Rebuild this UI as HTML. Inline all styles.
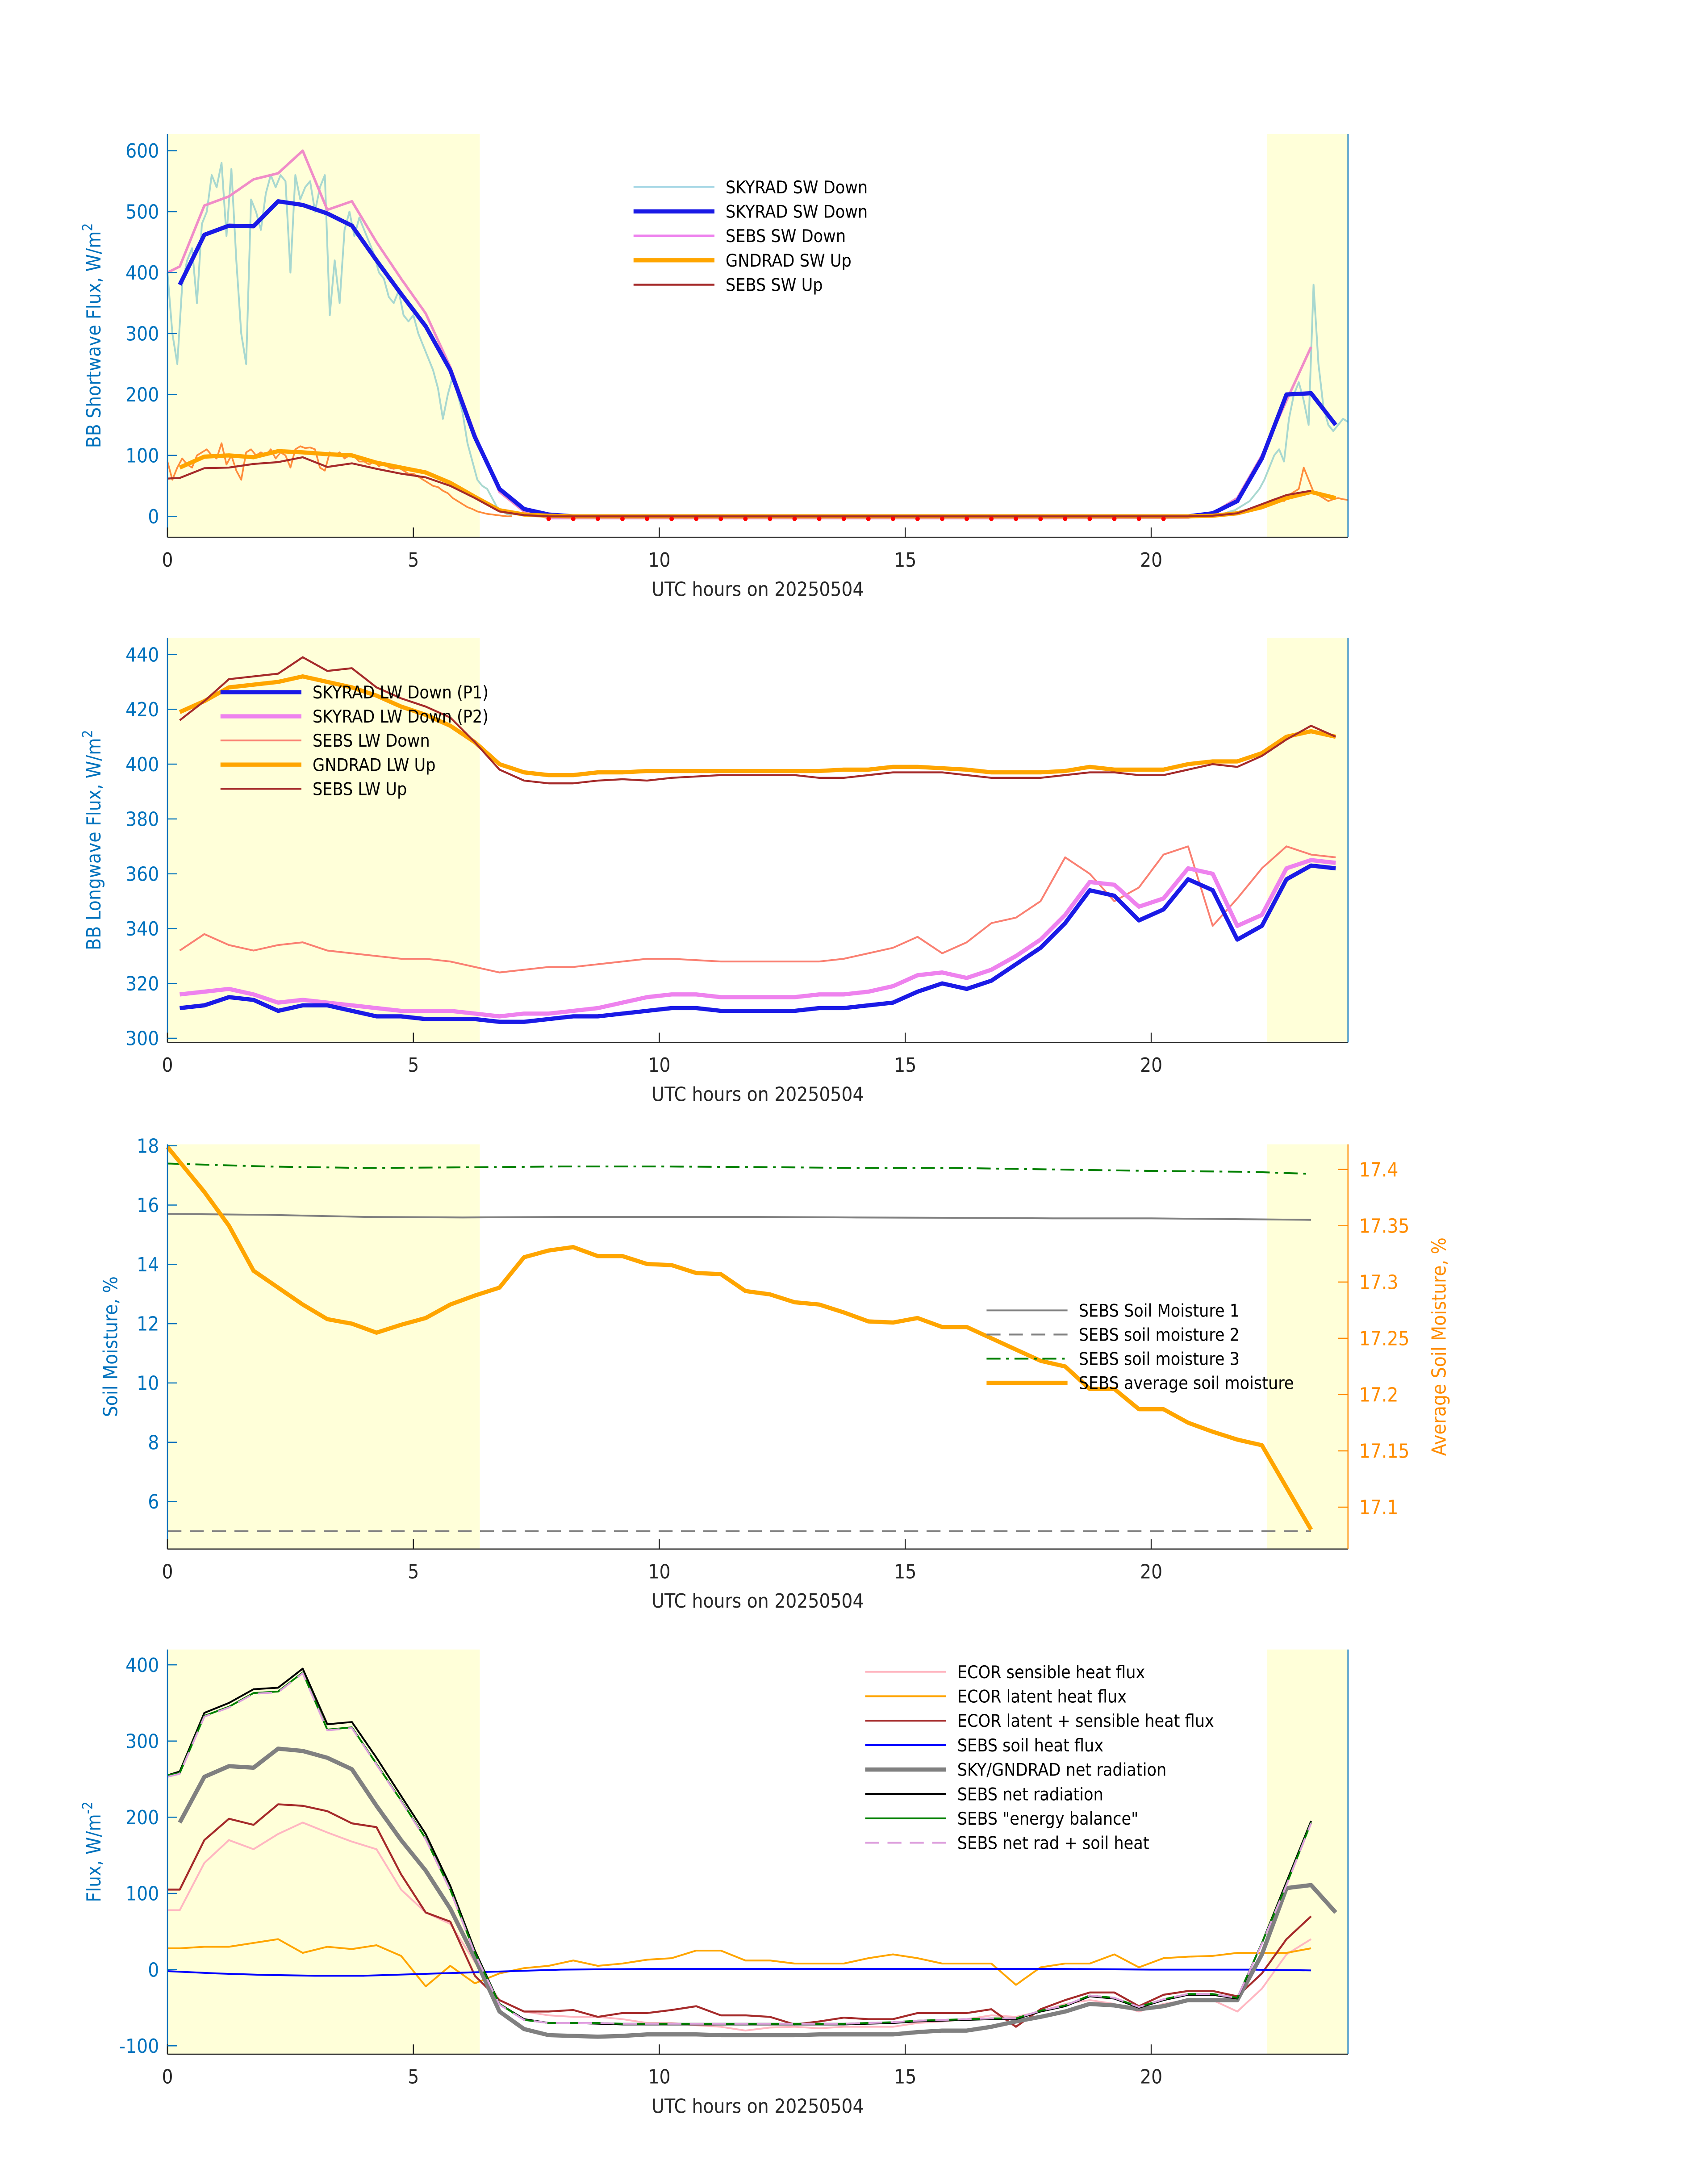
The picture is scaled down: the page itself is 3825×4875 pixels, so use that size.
<!DOCTYPE html>
<html><head><meta charset="utf-8"><style>
html,body{margin:0;padding:0;background:#fff;}
svg{display:block;}
text{font-family:"DejaVu Sans Condensed","DejaVu Sans","Liberation Sans",sans-serif;}
</style></head><body>
<svg id="chart" width="3825" height="4875" viewBox="0 0 1224 1560" xmlns="http://www.w3.org/2000/svg"></svg>
<script>
// ---------- Panel 1 data ----------
const swHours = [0.25,0.75,1.25,1.75,2.25,2.75,3.25,3.75,4.25,4.75,5.25,5.75,6.25,6.75,7.25,7.75,8.25,10,12,14,16,18,20,20.75,21.25,21.75,22.25,22.75,23.25,23.75];
const skyradSwDown = [380,462,477,476,517,511,497,477,420,365,312,240,130,45,12,3,0,0,0,0,0,0,0,0,5,25,95,200,202,150];
const sebsSwHours = [0,0.25,0.75,1.25,1.75,2.25,2.75,3.25,3.75,4.25,4.75,5.25,5.75,6.25,6.75,7.25,7.75,10,14,18,20.75,21.25,21.75,22.25,22.75,23.25];
const sebsSwDown = [400,410,510,525,553,563,600,503,517,450,390,333,245,135,40,8,-3,-3,-3,-3,-2,5,30,100,190,278];
const gndradSwUp = [80,98,100,97,107,105,102,100,88,80,72,55,32,10,3,1,0,0,0,0,0,0,0,0,1,5,15,30,40,30];
const sebsSwUp = [62,63,79,80,86,89,97,81,87,78,70,64,50,30,8,2,0,0,0,0,0,1,5,20,35,42];
const noisyDownA = [400,300,250,380,420,440,350,480,500,560,540,580,460,570,420,300,250,520,500,470,530,560,540,560,550,400,560,520,540,550,500,540,560,330,420,350,470,500,460,490,470,450,430,400,390,360,350,370,330,320,330,300,280,260,240,210,160,200,230,200,170,120,90,60,50,45,30,15,8,4,2];
const noisyDownB = [0,0,1,2,3,5,8,10,15,20,25,35,45,60,80,100,110,90,160,200,220,190,150,380,250,180,150,140,150,160,155];
const noisyUpA = [90,60,80,95,85,80,100,105,110,100,95,120,85,100,75,60,105,110,100,105,100,110,95,105,100,80,110,115,112,113,110,80,75,105,100,105,95,100,98,90,90,85,90,82,88,80,78,80,75,70,70,65,60,55,50,48,42,38,30,25,20,15,12,8,6,4,3,2,1,0,0];
const noisyUpB = [0,0,1,1,2,3,4,6,8,10,12,15,18,20,25,28,30,25,35,40,45,80,60,40,35,30,25,28,30,28,27];
const redDotHours = [7.75,8.25,8.75,9.25,9.75,10.25,10.75,11.25,11.75,12.25,12.75,13.25,13.75,14.25,14.75,15.25,15.75,16.25,16.75,17.25,17.75,18.25,18.75,19.25,19.75,20.25];
const redDotValues = [-4,-4,-4,-4,-4,-4,-4,-4,-4,-4,-4,-4,-4,-4,-4,-4,-4,-4,-4,-4,-4,-4,-4,-4,-4,-4];
const swTicks = [0,100,200,300,400,500,600];
// ---------- Panel 2 data ----------
const lwHours = [0.25,0.75,1.25,1.75,2.25,2.75,3.25,3.75,4.25,4.75,5.25,5.75,6.25,6.75,7.25,7.75,8.25,8.75,9.25,9.75,10.25,10.75,11.25,11.75,12.25,12.75,13.25,13.75,14.25,14.75,15.25,15.75,16.25,16.75,17.25,17.75,18.25,18.75,19.25,19.75,20.25,20.75,21.25,21.75,22.25,22.75,23.25,23.75];
const lwDownP1 = [311,312,315,314,310,312,312,310,308,308,307,307,307,306,306,307,308,308,309,310,311,311,310,310,310,310,311,311,312,313,317,320,318,321,327,333,342,354,352,343,347,358,354,336,341,358,363,362];
const lwDownP2 = [316,317,318,316,313,314,313,312,311,310,310,310,309,308,309,309,310,311,313,315,316,316,315,315,315,315,316,316,317,319,323,324,322,325,330,336,345,357,356,348,351,362,360,341,345,362,365,364];
const sebsLwDown = [332,338,334,332,334,335,332,331,330,329,329,328,326,324,325,326,326,327,328,329,329,328.5,328,328,328,328,328,329,331,333,337,331,335,342,344,350,366,360,350,355,367,370,341,351,362,370,367,366];
const gndradLwUp = [419,423,428,429,430,432,430,428,425,421,418,414,408,400,397,396,396,397,397,397.5,397.5,397.5,397.5,397.5,397.5,397.5,397.5,398,398,399,399,398.5,398,397,397,397,397.5,399,398,398,398,400,401,401,404,410,412,410];
const sebsLwUp = [416,423,431,432,433,439,434,435,428,424,421,417,408,398,394,393,393,394,394.5,394,395,395.5,396,396,396,396,395,395,396,397,397,397,396,395,395,395,396,397,397,396,396,398,400,399,403,409,414,410];
const lwTicks = [300,320,340,360,380,400,420,440];
// ---------- Panel 3 data ----------
const smHours = [0,2,4,6,8,10,12,14,16,18,20,22,23.25];
const soil1 = [15.7,15.67,15.6,15.58,15.6,15.6,15.6,15.58,15.57,15.55,15.55,15.52,15.5];
const soil2 = [5,5,5,5,5,5,5,5,5,5,5,5,5];
const soil3 = [17.4,17.3,17.25,17.27,17.3,17.3,17.28,17.25,17.25,17.2,17.15,17.12,17.05];
const avgHours = [0,0.75,1.25,1.75,2.25,2.75,3.25,3.75,4.25,4.75,5.25,5.75,6.25,6.75,7.25,7.75,8.25,8.75,9.25,9.75,10.25,10.75,11.25,11.75,12.25,12.75,13.25,13.75,14.25,14.75,15.25,15.75,16.25,16.75,17.25,17.75,18.25,18.75,19.25,19.75,20.25,20.75,21.25,21.75,22.25,23.25];
const avgSoil = [17.42,17.38,17.35,17.31,17.295,17.28,17.267,17.263,17.255,17.262,17.268,17.28,17.288,17.295,17.322,17.328,17.331,17.323,17.323,17.316,17.315,17.308,17.307,17.292,17.289,17.282,17.28,17.273,17.265,17.264,17.268,17.26,17.26,17.25,17.24,17.23,17.225,17.205,17.205,17.187,17.187,17.175,17.167,17.16,17.155,17.08];
const smTicks = [6,8,10,12,14,16,18];
const avgTicks = [17.1,17.15,17.2,17.25,17.3,17.35,17.4];
// ---------- Panel 4 data ----------
const flHours = [0,0.25,0.75,1.25,1.75,2.25,2.75,3.25,3.75,4.25,4.75,5.25,5.75,6.25,6.75,7.25,7.75,8.25,8.75,9.25,9.75,10.25,10.75,11.25,11.75,12.25,12.75,13.25,13.75,14.25,14.75,15.25,15.75,16.25,16.75,17.25,17.75,18.25,18.75,19.25,19.75,20.25,20.75,21.25,21.75,22.25,22.75,23.25];
const ecorSensible = [78,78,140,170,158,178,193,180,168,158,105,75,60,10,-40,-55,-60,-62,-62,-65,-70,-70,-73,-75,-80,-76,-75,-77,-75,-75,-75,-70,-68,-65,-60,-62,-55,-45,-40,-45,-55,-45,-40,-40,-55,-25,20,40];
const ecorLatent = [28,28,30,30,35,40,22,30,27,32,18,-22,5,-18,-5,2,5,12,5,8,13,15,25,25,12,12,8,8,8,15,20,15,8,8,8,-20,3,8,8,20,3,15,17,18,22,22,22,28];
const ecorSum = [105,105,170,198,190,217,215,208,192,187,125,75,63,-8,-40,-55,-55,-53,-62,-57,-57,-53,-48,-60,-60,-62,-72,-68,-63,-65,-65,-57,-57,-57,-52,-75,-52,-40,-30,-30,-48,-33,-28,-28,-35,-5,40,70];
const sebsNet = [255,260,337,350,368,370,395,322,325,278,228,178,110,25,-45,-65,-70,-70,-71,-72,-72,-72,-72,-72,-72,-72,-72,-72,-72,-71,-70,-68,-67,-66,-65,-65,-55,-48,-35,-38,-50,-40,-33,-33,-38,35,115,195];
const sebsBalance = [255,258,333,345,363,365,390,315,318,270,222,172,105,22,-45,-66,-70,-70,-70,-71,-71,-71,-71,-71,-71,-71,-71,-71,-71,-70,-69,-67,-66,-65,-64,-64,-54,-47,-34,-37,-49,-39,-32,-32,-37,35,112,193];
const sebsNetSoil = [253,257,332,344,362,364,389,314,317,269,221,171,104,21,-46,-66,-70,-70,-70,-71,-71,-71,-71,-71,-71,-71,-71,-71,-71,-70,-69,-67,-66,-65,-64,-64,-54,-47,-34,-37,-49,-39,-32,-32,-37,34,111,192];
const soilHeatHours = [0,1,2,3,4,5,6,7,8,10,12,14,16,18,20,22,23.25];
const soilHeat = [-2,-5,-7,-8,-8,-6,-4,-2,0,1,1,1,1,1,0,0,-1];
const netHours = [0.25,0.75,1.25,1.75,2.25,2.75,3.25,3.75,4.25,4.75,5.25,5.75,6.25,6.75,7.25,7.75,8.25,8.75,9.25,9.75,10.25,10.75,11.25,11.75,12.25,12.75,13.25,13.75,14.25,14.75,15.25,15.75,16.25,16.75,17.25,17.75,18.25,18.75,19.25,19.75,20.25,20.75,21.25,21.75,22.25,22.75,23.25,23.75];
const skyNet = [193,253,267,265,290,287,278,263,215,170,130,80,15,-55,-78,-86,-87,-88,-87,-85,-85,-85,-86,-86,-86,-86,-85,-85,-85,-85,-82,-80,-80,-75,-68,-62,-55,-45,-47,-52,-48,-40,-40,-40,20,107,111,75];
const flTicks = [-100,0,100,200,300,400];
const xTicks = [0,5,10,15,20];

const NS = "http://www.w3.org/2000/svg";
const svg = document.getElementById('chart');
function el(tag, attrs, parent){ const e=document.createElementNS(NS,tag); for(const k in attrs) e.setAttribute(k,attrs[k]); (parent||svg).appendChild(e); return e; }
const XL=120, XR=966;
function xs(h){ return XL + h*(XR-XL)/24; }
function mkY(v1,p1,v2,p2){ return v=> p1 + (v-v1)*(p2-p1)/(v2-v1); }
const panels = [
  {top:96,bot:385,y:mkY(0,370,600,108),ticks:swTicks,label:"BB Shortwave Flux, W/m",sup:"2",labX:72,name:"shortwave"},
  {top:457,bot:747,y:mkY(300,744,440,469),ticks:lwTicks,label:"BB Longwave Flux, W/m",sup:"2",labX:72,name:"longwave"},
  {top:820,bot:1110,y:mkY(6,1076,18,821),ticks:smTicks,label:"Soil Moisture, %",sup:"",labX:84,name:"soil-moisture"},
  {top:1182,bot:1472,y:mkY(-100,1466,400,1193),ticks:flTicks,label:"Flux, W/m",sup:"-2",labX:72,name:"flux"}
];
const BLUE="#0072bd";
panels.forEach((p,i)=>{
  const g=el('g',{});
  
  
  p.g=g;
  const s1=el('rect',{x:XL,y:p.top,width:xs(6.35)-XL,height:p.bot-p.top,fill:"#ffffd9"},g);
  
  
  const s2=el('rect',{x:xs(22.35),y:p.top,width:XR-xs(22.35),height:p.bot-p.top,fill:"#ffffd9"},g);
  
  
  p.lines=el('g',{},g);
  el('line',{x1:XL,y1:p.bot,x2:XR,y2:p.bot,stroke:"#262626","stroke-width":0.8},g);
  el('line',{x1:XL,y1:p.top,x2:XL,y2:p.bot,stroke:BLUE,"stroke-width":0.8},g);
  el('line',{x1:XR,y1:p.top,x2:XR,y2:p.bot,stroke:(i==2?"#ff8c00":BLUE),"stroke-width":0.8},g);
  xTicks.forEach(t=>{
    el('line',{x1:xs(t),y1:p.bot,x2:xs(t),y2:p.bot-7,stroke:"#262626","stroke-width":0.8},g);
    const tx=el('text',{x:xs(t),y:p.bot+21,"text-anchor":"middle","font-size":14,fill:"#262626"},g);
    tx.textContent=t;
    
    
  });
  p.ticks.forEach(t=>{
    el('line',{x1:XL,y1:p.y(t),x2:XL+7,y2:p.y(t),stroke:BLUE,"stroke-width":0.8},g);
    const tx=el('text',{x:XL-6,y:p.y(t)+5,"text-anchor":"end","font-size":14,fill:BLUE},g);
    tx.textContent=t;
    
    
  });
  const xt=el('text',{x:543,y:p.bot+42,"text-anchor":"middle","font-size":14,fill:"#262626"},g);
  xt.textContent="UTC hours on 20250504";
  
  
  const cy=(p.top+p.bot)/2;
  const yt=el('text',{x:p.labX,y:cy,"text-anchor":"middle","font-size":14,fill:BLUE,transform:`rotate(-90 ${p.labX} ${cy})`},g);
  yt.textContent=p.label;
  if(p.sup){ const ts=el('tspan',{"font-size":10,dy:-6},yt); ts.textContent=p.sup; }
  
  
});
function series(p, hrs, vals, yf, style, name){
  const pts=hrs.map((h,i)=>xs(h).toFixed(2)+","+yf(vals[i]).toFixed(2)).join(" ");
  const a=Object.assign({points:pts,fill:"none","stroke-linejoin":"round"},style);
  const e=el('polyline',a,p.lines);
  
  
  return e;
}
function stepHours(start,n){ const a=[]; for(let i=0;i<n;i++) a.push(start+i*0.1); return a; }
function legend(x0,y0,dy,items,name){
  const g=el('g',{});
  
  
  items.forEach((it,i)=>{
    const y=y0+i*dy;
    const l=el('line',Object.assign({x1:x0,y1:y,x2:x0+58,y2:y},it.s),g);
    
    
    const t=el('text',{x:x0+66,y:y+4.5,"font-size":12.5,fill:"#000"},g);
    t.textContent=it.t;
    
    
  });
}
// Panel 1
const P1=panels[0];
const sNoisyD={stroke:"#a8d8d0","stroke-width":1.3};
const sBlue={stroke:"#1a1ae6","stroke-width":3};
const sViolet={stroke:"#ee82ee","stroke-width":1.8};
const sPink={stroke:"#f08cc8","stroke-width":1.8};
const sOrange={stroke:"#ffa500","stroke-width":3};
const sNoisyU={stroke:"#ff8c3c","stroke-width":1.2};
const sBrown={stroke:"#a52a2a","stroke-width":1.4};
series(P1,stepHours(0,noisyDownA.length),noisyDownA,P1.y,sNoisyD,'skyrad-sw-down-raw');
series(P1,stepHours(21,noisyDownB.length),noisyDownB,P1.y,sNoisyD,'skyrad-sw-down-raw-late');
series(P1,sebsSwHours,sebsSwDown,P1.y,sPink,'sebs-sw-down');
series(P1,swHours,skyradSwDown,P1.y,sBlue,'skyrad-sw-down');
series(P1,stepHours(0,noisyUpA.length),noisyUpA,P1.y,sNoisyU,'gndrad-sw-up-raw');
series(P1,stepHours(21,noisyUpB.length),noisyUpB,P1.y,sNoisyU,'gndrad-sw-up-raw-late');
series(P1,swHours,gndradSwUp,P1.y,sOrange,'gndrad-sw-up');
series(P1,sebsSwHours,sebsSwUp,P1.y,sBrown,'sebs-sw-up');
redDotHours.forEach((h,i)=>{
  const c=el('circle',{cx:xs(h),cy:P1.y(redDotValues[i]),r:1.6,fill:"#ff0000"},P1.lines);
  
  
});
legend(454,134,17.5,[
  {t:"SKYRAD SW Down",s:{stroke:"#a8d8e6","stroke-width":1.3}},
  {t:"SKYRAD SW Down",s:sBlue},
  {t:"SEBS SW Down",s:sViolet},
  {t:"GNDRAD SW Up",s:sOrange},
  {t:"SEBS SW Up",s:sBrown}],'shortwave-legend');
// Panel 2
const P2=panels[1];
const sSalmon={stroke:"#fa8072","stroke-width":1.3};
series(P2,lwHours,sebsLwDown,P2.y,sSalmon,'sebs-lw-down');
series(P2,lwHours,lwDownP2,P2.y,{stroke:"#ee82ee","stroke-width":3},'skyrad-lw-down-p2');
series(P2,lwHours,lwDownP1,P2.y,sBlue,'skyrad-lw-down-p1');
series(P2,lwHours,gndradLwUp,P2.y,sOrange,'gndrad-lw-up');
series(P2,lwHours,sebsLwUp,P2.y,sBrown,'sebs-lw-up');
legend(158,496,17.3,[
  {t:"SKYRAD LW Down (P1)",s:sBlue},
  {t:"SKYRAD LW Down (P2)",s:{stroke:"#ee82ee","stroke-width":3}},
  {t:"SEBS LW Down",s:sSalmon},
  {t:"GNDRAD LW Up",s:sOrange},
  {t:"SEBS LW Up",s:sBrown}],'longwave-legend');
// Panel 3
const P3=panels[2];
const yR=mkY(17.1,1080,17.4,838);
const sGray={stroke:"#808080","stroke-width":1.3};
const sDash={stroke:"#808080","stroke-width":1.3,"stroke-dasharray":"10,6"};
const sDashDot={stroke:"#008000","stroke-width":1.3,"stroke-dasharray":"10,4,2,4"};
series(P3,smHours,soil1,P3.y,sGray,'sebs-soil-moisture-1');
series(P3,smHours,soil2,P3.y,sDash,'sebs-soil-moisture-2');
series(P3,smHours,soil3,P3.y,sDashDot,'sebs-soil-moisture-3');
series(P3,avgHours,avgSoil,yR,sOrange,'sebs-average-soil-moisture');
avgTicks.forEach(t=>{
  el('line',{x1:XR,y1:yR(t),x2:XR-7,y2:yR(t),stroke:"#ff8c00","stroke-width":0.8},P3.g);
  const tx=el('text',{x:XR+8,y:yR(t)+5,"font-size":14,fill:"#ff8c00"},P3.g);
  tx.textContent=t;
  
  
});
const rl=el('text',{x:1036,y:965,"text-anchor":"middle","font-size":14,fill:"#ff8c00",transform:"rotate(-90 1036 965)"},P3.g);
rl.textContent="Average Soil Moisture, %";


legend(707,939,17.3,[
  {t:"SEBS Soil Moisture 1",s:sGray},
  {t:"SEBS soil moisture 2",s:sDash},
  {t:"SEBS soil moisture 3",s:sDashDot},
  {t:"SEBS average soil moisture",s:sOrange}],'soil-moisture-legend');
// Panel 4
const P4=panels[3];
const sLPink={stroke:"#ffb6c1","stroke-width":1.3};
const sLOr={stroke:"#ffa500","stroke-width":1.3};
const sSoil={stroke:"#0000ff","stroke-width":1.3};
const sGrayT={stroke:"#808080","stroke-width":3};
const sBlack={stroke:"#000","stroke-width":1.3};
const sGreen={stroke:"#008000","stroke-width":1.3};
const sPlum={stroke:"#dda0dd","stroke-width":1.3,"stroke-dasharray":"10,6"};
series(P4,flHours,ecorSensible,P4.y,sLPink,'ecor-sensible-heat-flux');
series(P4,flHours,ecorLatent,P4.y,sLOr,'ecor-latent-heat-flux');
series(P4,flHours,ecorSum,P4.y,sBrown,'ecor-latent-plus-sensible');
series(P4,soilHeatHours,soilHeat,P4.y,sSoil,'sebs-soil-heat-flux');
series(P4,netHours,skyNet,P4.y,sGrayT,'sky-gndrad-net-radiation');
series(P4,flHours,sebsNet,P4.y,sBlack,'sebs-net-radiation');
series(P4,flHours,sebsBalance,P4.y,sGreen,'sebs-energy-balance');
series(P4,flHours,sebsNetSoil,P4.y,sPlum,'sebs-net-rad-plus-soil-heat');
legend(620,1198,17.5,[
  {t:"ECOR sensible heat flux",s:sLPink},
  {t:"ECOR latent heat flux",s:sLOr},
  {t:"ECOR latent + sensible heat flux",s:sBrown},
  {t:"SEBS soil heat flux",s:sSoil},
  {t:"SKY/GNDRAD net radiation",s:sGrayT},
  {t:"SEBS net radiation",s:sBlack},
  {t:"SEBS \"energy balance\"",s:sGreen},
  {t:"SEBS net rad + soil heat",s:sPlum}],'flux-legend');
</script>
</body></html>
